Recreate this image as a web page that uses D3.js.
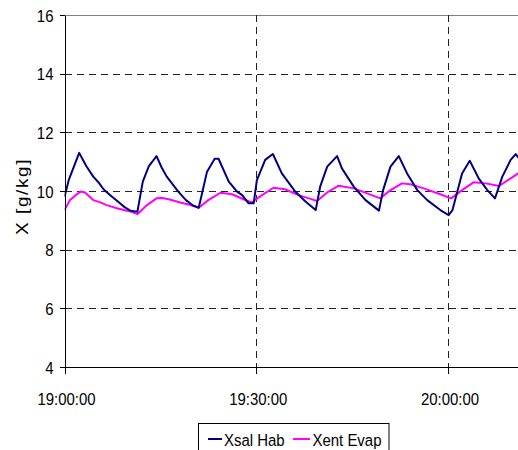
<!DOCTYPE html>
<html>
<head>
<meta charset="utf-8">
<script src="https://cdn.jsdelivr.net/npm/d3@7"></script>
<style>
  html, body { margin: 0; padding: 0; background: #fff; }
  svg { display: block; }
  text { font-family: "Liberation Sans", Arial, sans-serif; fill: #000; }
</style>
</head>
<body>
<svg id="chart" width="518" height="450"></svg>
<script>
// Series names and axis ticks
const seriesNames = ["Xsal Hab", "Xent Evap"];
const startTime = "19:00:00";
const xTickLabels = ["19:00:00", "19:30:00", "20:00:00"];
const yTicks = [4, 6, 8, 10, 12, 14, 16];

// Xsal Hab: minutes after 19:00:00 and humidity ratio [g/kg]
const xsalHabMinutes = [0, 0.7, 2.3, 3.4, 4.5, 5.3, 6.1, 7.2, 8.4, 9.4, 10.3, 11.4,
  12.25, 13.2, 14.4, 15.2, 16.0, 17.8, 19.0, 20.0, 21.0,
  22.3, 23.5, 24.1, 25.7, 27.0, 27.8, 28.8, 29.6,
  30.1, 31.4, 32.6, 34.0, 36.1, 37.7, 39.3,
  40.0, 41.1, 42.65, 43.4, 45.25, 47.1, 49.2,
  49.85, 51.0, 52.3, 53.6, 55.2, 56.75, 58.8, 60.1,
  60.7, 62.2, 63.4, 64.8, 66.15, 67.35,
  68.5, 69.8, 70.6, 71.1];
const xsalHabValues = [9.8, 10.4, 11.3, 10.85, 10.49, 10.3, 10.06, 9.85, 9.63, 9.45, 9.33, 9.29,
  10.32, 10.85, 11.19, 10.8, 10.49, 9.98, 9.69, 9.52, 9.43,
  10.66, 11.1, 11.1, 10.32, 9.98, 9.86, 9.58, 9.58,
  10.37, 11.06, 11.26, 10.6, 9.98, 9.64, 9.35,
  10.15, 10.83, 11.19, 10.77, 10.15, 9.69, 9.33,
  10.03, 10.83, 11.19, 10.6, 10.03, 9.69, 9.35, 9.18,
  9.35, 10.6, 11.03, 10.43, 10.03, 9.75,
  10.49, 11.06, 11.26, 11.11];

// Xent Evap: minutes after 19:00:00 and humidity ratio [g/kg]
const xentEvapMinutes = [0, 0.86, 1.7, 2.5, 3.2, 4.5, 5.5, 6.6, 8.2, 9.75, 10.6, 11.4,
  12.9, 14.4, 15.3, 16.3, 18.1, 19.7, 21.0,
  22.5, 24.4, 26.2, 28.0, 29.3,
  30.9, 32.7, 34.5, 36.6, 38.5, 39.5,
  41.3, 42.9, 45.25, 47.35, 49.4,
  51.0, 52.8, 54.1, 56.2, 58.8, 60.5,
  62.2, 64.05, 65.9, 68.0, 69.8, 71.1];
const xentEvapValues = [9.35, 9.69, 9.85, 9.98, 9.95, 9.69, 9.62, 9.52, 9.41, 9.33, 9.28, 9.21,
  9.52, 9.75, 9.76, 9.72, 9.61, 9.52, 9.43,
  9.69, 9.94, 9.89, 9.72, 9.61,
  9.86, 10.11, 10.06, 9.86, 9.73, 9.66,
  9.98, 10.18, 10.09, 9.92, 9.75,
  10.03, 10.26, 10.23, 10.09, 9.89, 9.75,
  10.03, 10.3, 10.26, 10.17, 10.43, 10.62];

const seriesColors = ["#000080", "#ff00ff"];

const W = 518, H = 450;
const plot = { left: 64.5, top: 15, bottom: 367, right: 518 };
const squeeze = 0.88; // narrow lettering

const t0 = d3.timeParse("%H:%M:%S")(startTime);
const toDate = m => new Date(t0.getTime() + m * 60000);
const fmt = d3.timeFormat("%H:%M:%S");

const x = d3.scaleTime().domain([t0, toDate(60)]).range([plot.left, 448]);
const y = d3.scaleLinear().domain([4, 16]).range([plot.bottom, plot.top]);

const svg = d3.select("#chart");

svg.append("defs").append("clipPath").attr("id", "plotClip")
  .append("rect")
  .attr("x", plot.left).attr("y", plot.top - 2)
  .attr("width", plot.right - plot.left + 2).attr("height", plot.bottom - plot.top + 4);

// Top border of the plot area
svg.append("line")
  .attr("x1", plot.left).attr("x2", plot.right)
  .attr("y1", y(16) + 0.5).attr("y2", y(16) + 0.5)
  .attr("stroke", "#808080").attr("stroke-width", 1)
  .attr("shape-rendering", "crispEdges");

// Horizontal dashed grid
svg.append("g").selectAll("line")
  .data(yTicks.filter(v => v > 4 && v < 16))
  .join("line")
  .attr("x1", plot.left).attr("x2", plot.right)
  .attr("y1", d => Math.round(y(d)) + 0.5).attr("y2", d => Math.round(y(d)) + 0.5)
  .attr("stroke", "#222").attr("stroke-width", 1)
  .attr("stroke-dasharray", "7,5")
  .attr("shape-rendering", "crispEdges");

// Vertical dashed grid
const xTickDates = xTickLabels.map(s => d3.timeParse("%H:%M:%S")(s));
svg.append("g").selectAll("line")
  .data(xTickDates.slice(1))
  .join("line")
  .attr("x1", d => Math.round(x(d)) + 0.5).attr("x2", d => Math.round(x(d)) + 0.5)
  .attr("y1", plot.top).attr("y2", plot.bottom + 7)
  .attr("stroke", "#222").attr("stroke-width", 1)
  .attr("stroke-dasharray", "7,5")
  .attr("shape-rendering", "crispEdges");

// Series lines
const series = [
  { name: seriesNames[0], minutes: xsalHabMinutes, values: xsalHabValues, color: seriesColors[0] },
  { name: seriesNames[1], minutes: xentEvapMinutes, values: xentEvapValues, color: seriesColors[1] }
];
const line = d3.line().x(d => x(d[0])).y(d => y(d[1]));

const lines = svg.append("g").attr("clip-path", "url(#plotClip)");
// draw magenta first so the navy series sits above it
[series[1], series[0]].forEach(s => {
  const pts = s.minutes.map((m, i) => [toDate(m), s.values[i]]);
  lines.append("path")
    .datum(pts)
    .attr("fill", "none")
    .attr("stroke", s.color)
    .attr("stroke-width", 2)
    .attr("stroke-linejoin", "round")
    .attr("d", line);
});

// Left axis
const yAxis = svg.append("g")
  .attr("transform", `translate(${plot.left},0)`)
  .call(d3.axisLeft(y).tickValues(yTicks).tickSize(5).tickSizeOuter(0).tickFormat(d3.format("d")));
yAxis.select(".domain").attr("stroke", "#000").attr("shape-rendering", "crispEdges");
yAxis.selectAll(".tick line").attr("stroke", "#000").attr("shape-rendering", "crispEdges");
yAxis.selectAll(".tick text")
  .attr("x", 0).attr("dy", "0.36em")
  .attr("transform", `translate(-11,0) scale(${squeeze},1)`)
  .style("font-size", "17px").style("font-family", "'Liberation Sans', Arial, sans-serif");

// Bottom axis
const xAxis = svg.append("g")
  .attr("transform", `translate(0,${plot.bottom})`)
  .call(d3.axisBottom(x).tickValues(xTickDates).tickSize(7).tickSizeOuter(0).tickFormat(fmt));
xAxis.select(".domain")
  .attr("d", `M${plot.left},0.5H${plot.right}`)
  .attr("stroke", "#000").attr("shape-rendering", "crispEdges");
xAxis.selectAll(".tick line").attr("stroke", "#000").attr("shape-rendering", "crispEdges");
xAxis.selectAll(".tick text")
  .attr("y", 0).attr("dy", 0)
  .attr("transform", `translate(1.5,38) scale(${squeeze},1)`)
  .style("font-size", "17px").style("font-family", "'Liberation Sans', Arial, sans-serif");

// Y axis title
svg.append("text")
  .attr("transform", `translate(27.5,196.5) rotate(-90) scale(1,${squeeze})`)
  .attr("text-anchor", "middle")
  .style("font-size", "19px")
  .style("letter-spacing", "1.6px")
  .text("X  [g/kg]");

// Legend
const legend = svg.append("g");
legend.append("rect")
  .attr("x", 198.5).attr("y", 423.5)
  .attr("width", 190.5).attr("height", 40)
  .attr("fill", "#fff").attr("stroke", "#000").attr("stroke-width", 1);
const legendItems = [
  { s: series[0], x1: 208, x2: 222, tx: 224 },
  { s: series[1], x1: 293, x2: 310, tx: 312.5 }
];
legendItems.forEach(it => {
  legend.append("line")
    .attr("x1", it.x1).attr("x2", it.x2).attr("y1", 439).attr("y2", 439)
    .attr("stroke", it.s.color).attr("stroke-width", 2);
  legend.append("text")
    .attr("transform", `translate(${it.tx},445.5) scale(${squeeze},1)`)
    .style("font-size", "17px")
    .text(it.s.name);
});
</script>
</body>
</html>
